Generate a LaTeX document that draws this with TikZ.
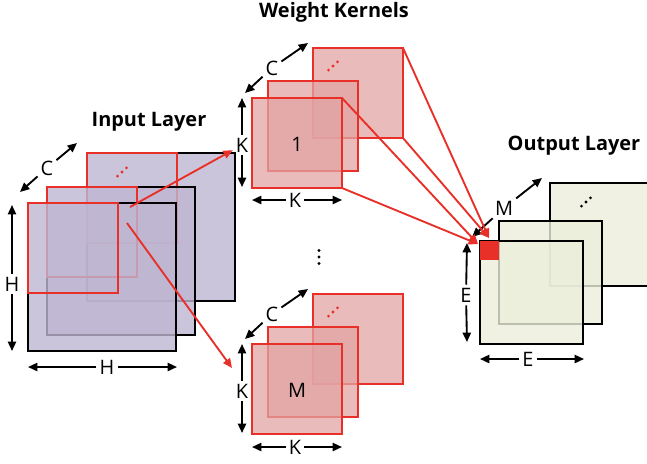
\documentclass[tikz,border=0pt]{standalone}
\usepackage{fontspec}
\setmainfont{Open Sans}
\usetikzlibrary{arrows.meta}
\definecolor{inputfill}{RGB}{190,182,210}
\definecolor{kernelfill}{RGB}{226,164,164}
\definecolor{outfill}{RGB}{236,238,220}
\definecolor{redline}{RGB}{232,48,40}
% three dots in a rising row
\newcommand{\risedots}[2]{%
  \foreach \k in {-1,0,1} \fill[#2] (#1) ++(\k*4.5,-\k*4.2) circle (1.3pt);}

\begin{document}
\begin{tikzpicture}[
  x=0.03cm, y=-0.03cm,
  font=\fontsize{17}{20}\selectfont,
  title/.style={font=\fontsize{17}{20}\selectfont\bfseries},
  plane/.style={rectangle, anchor=north west, inner sep=0pt, outer sep=0pt, line width=1.7pt},
  inplane/.style={plane, draw=black, fill=inputfill, fill opacity=0.8, minimum size=4.44cm},
  window/.style={plane, draw=redline, minimum size=2.7cm},
  kernel/.style={plane, draw=redline, fill=kernelfill, fill opacity=0.75, minimum size=2.7cm},
  outplane/.style={plane, draw=black, fill=outfill, fill opacity=0.8, minimum size=3.09cm},
  dimlabel/.style={inner sep=2.5pt},
  dim/.style={line width=1.6pt, -{Triangle[length=8pt,width=7pt]}},
  link/.style={draw=redline, line width=1.6pt, -{Triangle[length=8pt,width=7pt]}}
]
\useasboundingbox (0,0) rectangle (647,463);

% Input layer
\node[title] (intitle) at (149,122) {Input Layer};
\node[inplane] (in3) at (87,153) {};
\node[window] (win3) at (87,153) {};
\risedots{122,172}{redline}
\node[inplane] (in2) at (47,187) {};
\node[window] (win2) at (47,187) {};
\node[inplane] (in1) at (28,203) {};
\node[window] (win1) at (28,203) {};

\node[dimlabel] (inC) at (47,168) {C};
\draw[dim] (inC) -- (20,192);
\draw[dim] (inC) -- (77,143);
\node[dimlabel] (inHv) at (12,284) {H};
\draw[dim] (inHv) -- (12,205);
\draw[dim] (inHv) -- (12,351);
\node[dimlabel] (inHh) at (107,367) {H};
\draw[dim] (inHh) -- (28,367);
\draw[dim] (inHh) -- (177,367);

% Weight kernels
\node[title] (ktitle) at (334,12) {Weight Kernels};
\node[kernel] (kb1) at (313,48) {};
\risedots{333,66}{redline}
\node[kernel] (km1) at (268,81) {};
\node[kernel] (kf1) at (252,98) {};
\node (kone) at (297,144) {1};

\node[dimlabel] (kC1) at (272,68) {C};
\draw[dim] (kC1) -- (245,93);
\draw[dim] (kC1) -- (308,43);
\node[dimlabel] (kK1) at (242,145) {K};
\draw[dim] (kK1) -- (242,98);
\draw[dim] (kK1) -- (242,187);
\node[dimlabel] (kKh1) at (295,200) {K};
\draw[dim] (kKh1) -- (252,200);
\draw[dim] (kKh1) -- (342,200);

\foreach \k in {-1,0,1} \fill (319,257+\k*6.5) circle (1.3pt);

\node[kernel] (kb2) at (313,294) {};
\risedots{333,312}{redline}
\node[kernel] (km2) at (268,327) {};
\node[kernel] (kf2) at (252,344) {};
\node (kem) at (297,390) {M};

\node[dimlabel] (kC2) at (272,314) {C};
\draw[dim] (kC2) -- (245,339);
\draw[dim] (kC2) -- (308,289);
\node[dimlabel] (kK2) at (242,391) {K};
\draw[dim] (kK2) -- (242,344);
\draw[dim] (kK2) -- (242,433);
\node[dimlabel] (kKh2) at (295,447) {K};
\draw[dim] (kKh2) -- (252,447);
\draw[dim] (kKh2) -- (342,447);

% Output layer
\node[title] (outtitle) at (574,146) {Output Layer};
\node[outplane] (out3) at (550,183) {};
\risedots{586,202}{black}
\node[outplane] (out2) at (499,221) {};
\node[outplane] (out1) at (480,241) {};
\node[plane, fill=redline, minimum size=0.57cm] (osq) at (480,241) {};

\node[dimlabel] (outM) at (504,208) {M};
\draw[dim] (outM) -- (472,237);
\draw[dim] (outM) -- (542,178);
\node[dimlabel] (outEv) at (466,295) {E};
\draw[dim] (outEv) -- (467,243);
\draw[dim] (outEv) -- (467,342);
\node[dimlabel] (outEh) at (528,359) {E};
\draw[dim] (outEh) -- (480,359);
\draw[dim] (outEh) -- (584,359);

% Connections
\coordinate (src1) at (130,207);
\coordinate (src2) at (127,223);
\coordinate (dst2) at (232,368);
\coordinate (tipA) at (489,238);
\coordinate (tipB) at (478,244);
\draw[link] (src1) -- (kK1);
\draw[link] (src2) -- (dst2);
\draw[link] (kb1.north east) -- (tipA);
\draw[link] (kb1.south east) -- (tipA);
\draw[link] (kf1.north east) -- (tipB);
\draw[link] (kf1.south east) -- (tipB);

\end{tikzpicture}
\end{document}
